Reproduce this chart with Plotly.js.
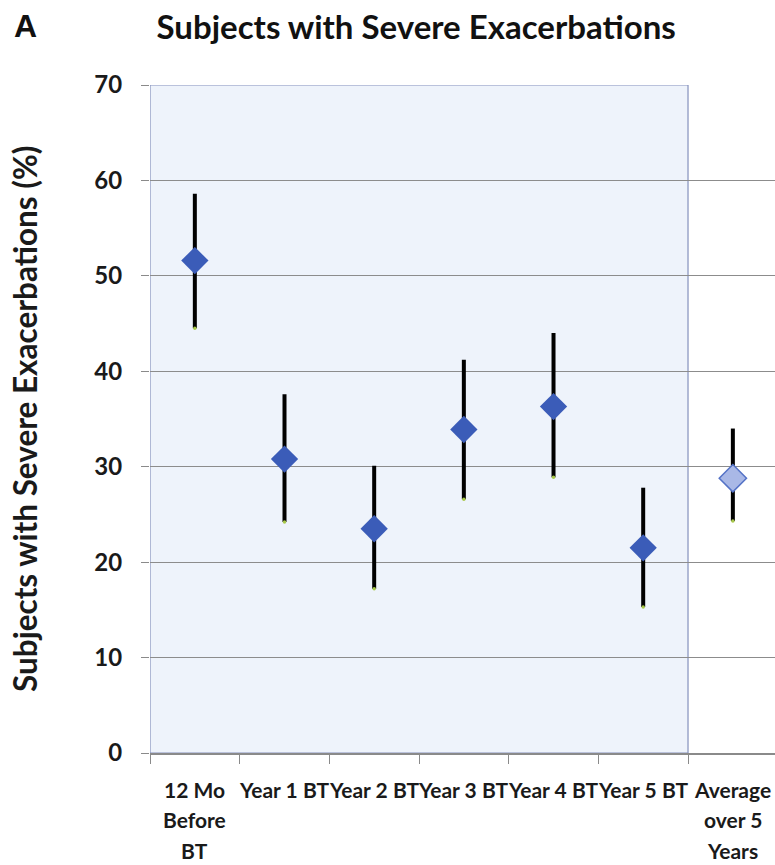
<!DOCTYPE html>
<html><head><meta charset="utf-8">
<script src="https://cdn.plot.ly/plotly-3.0.1.min.js"></script>
<style>html,body{margin:0;padding:0;background:#fff}#chart{width:775px;height:865px}</style>
</head><body><div id="chart"></div>
<script>
// ---- data ----
const categories = ['12 Mo<br>Before<br>BT','Year 1 BT','Year 2 BT','Year 3 BT','Year 4 BT','Year 5 BT','Average<br>over 5<br>Years'];
const periodCats = categories.slice(0, 6);
const periodValues = [51.6, 30.8, 23.5, 33.9, 36.3, 21.5];
const periodUpper  = [58.6, 37.6, 30.1, 41.2, 44.0, 27.8];
const periodLower  = [44.5, 24.2, 17.2, 26.6, 28.9, 15.3];
const averageCats  = categories.slice(6);
const averageValue = [28.8];
const averageUpper = [34.0];
const averageLower = [24.3];
const yTickVals = [0, 10, 20, 30, 40, 50, 60, 70];

const titleText = 'Subjects with Severe Exacerbations';
const yTitleText = 'Subjects with Severe Exacerbations (%)';
const panelLetter = 'A';

// ---- build ----
function errBar(vals, up, lo) {
  return {type: 'data', symmetric: false,
    array: vals.map((v, i) => up[i] - v),
    arrayminus: vals.map((v, i) => v - lo[i]),
    color: '#000', thickness: 4, width: 0};
}
const labelFont = {family: 'Lato, sans-serif', size: 21, color: '#1a1a1a', weight: 'bold'};

const traces = [
  {type: 'scatter', mode: 'markers', x: periodCats, y: periodValues,
   error_y: errBar(periodValues, periodUpper, periodLower),
   marker: {symbol: 'diamond', size: 21, color: '#3b5cb8', line: {width: 0}},
   hoverinfo: 'skip', showlegend: false},
  {type: 'scatter', mode: 'markers', x: averageCats, y: averageValue,
   error_y: errBar(averageValue, averageUpper, averageLower),
   marker: {symbol: 'diamond', size: 21, color: '#a9b8e6', line: {width: 1.5, color: '#5472c6'}},
   hoverinfo: 'skip', showlegend: false},
  {type: 'scatter', mode: 'markers', x: categories, y: periodLower.concat(averageLower),
   marker: {symbol: 'circle', size: 3.5, color: '#a8c84a'}, hoverinfo: 'skip', showlegend: false}
];

const annotations = [];
categories.forEach((c, i) => {
  c.split('<br>').forEach((line, j) => {
    annotations.push({text: line, x: c, xref: 'x', y: 0, yref: 'paper', xanchor: 'center', yanchor: 'middle',
      yshift: -36 - 30.5 * j, showarrow: false, font: labelFont});
  });
});
annotations.push({text: yTitleText, textangle: -90, x: -0.2, xref: 'paper', y: 0.5, yref: 'paper',
  xanchor: 'center', yanchor: 'middle', showarrow: false,
  font: {family: 'Lato, sans-serif', size: 31.5, color: '#1a1a1a', weight: 'bold'}});
annotations.push({text: panelLetter, x: -0.221, xref: 'paper', y: 1.089, yref: 'paper',
  xanchor: 'left', yanchor: 'middle', showarrow: false,
  font: {family: 'Liberation Sans, Arial, sans-serif', size: 32, color: '#111', weight: 'bold'}});

const layout = {
  width: 775, height: 865,
  margin: {l: 150, r: 0, t: 84.5, b: 112, pad: 0},
  paper_bgcolor: '#fff', plot_bgcolor: '#fff',
  title: {text: titleText, x: 0.537, xref: 'container', xanchor: 'center', y: 1 - 27 / 865, yref: 'container', yanchor: 'middle',
    font: {family: 'Lato, sans-serif', size: 33, color: '#111', weight: 'bold'}},
  xaxis: {type: 'category', categoryorder: 'array', categoryarray: categories, range: [-0.5, 6.47],
    showticklabels: false, ticks: 'outside', tickson: 'boundaries', ticklen: 9, tickwidth: 1, tickcolor: '#8a8a8a',
    showgrid: false, showline: true, linecolor: '#8a8a8a', linewidth: 1.5, zeroline: false, fixedrange: true},
  yaxis: {range: [0, 70], tickvals: yTickVals, ticks: 'outside', ticklen: 8, tickcolor: '#8a8a8a', tickwidth: 1,
    showgrid: true, gridcolor: '#8c8c8c', gridwidth: 1, showline: false, zeroline: false,
    tickfont: {family: 'Lato, sans-serif', size: 24, color: '#1a1a1a', weight: 'bold'},
    ticklabelstandoff: 14, fixedrange: true},
  shapes: [{type: 'rect', xref: 'x', yref: 'y', x0: -0.5, x1: 5.5, y0: 0, y1: 70, layer: 'below',
    fillcolor: '#eef3fb', line: {color: '#8591bd', width: 1.2}}],
  annotations: annotations,
  showlegend: false
};

Plotly.newPlot('chart', traces, layout, {displayModeBar: false, staticPlot: true});
</script></body></html>
